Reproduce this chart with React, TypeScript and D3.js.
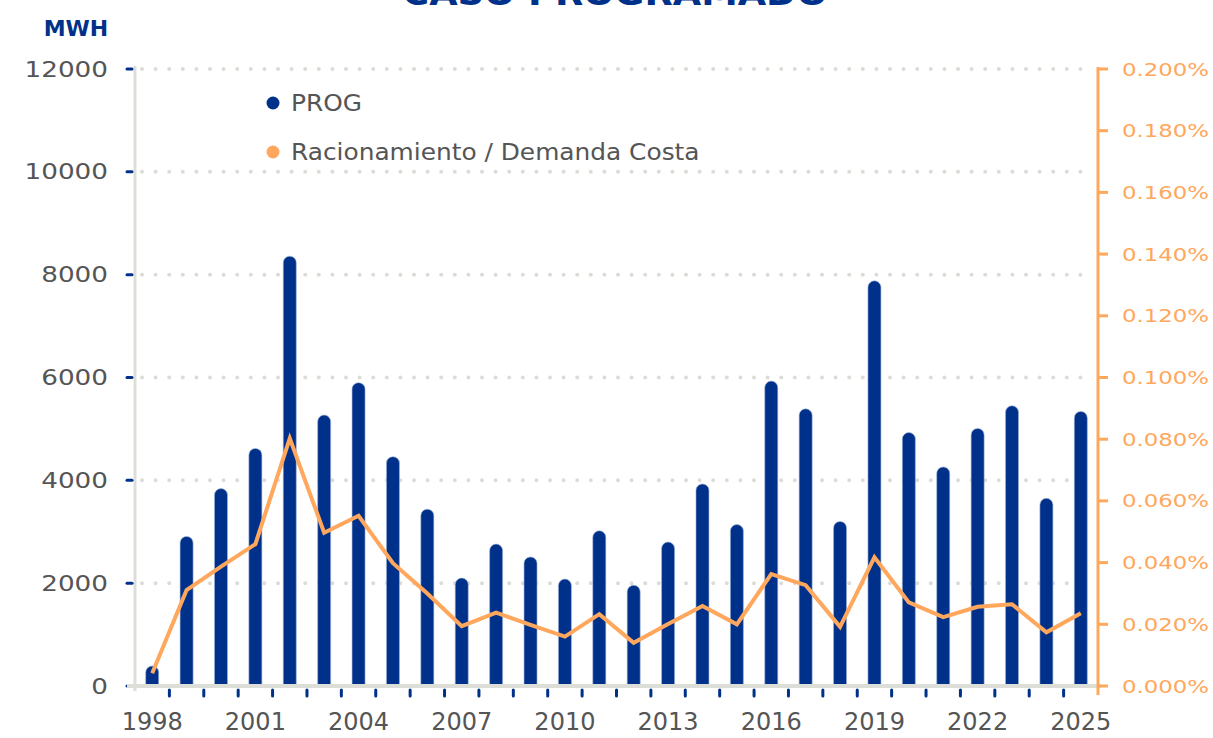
import React from "react";
import * as d3 from "d3";

const years = [
  "1998", "1999", "2000", "2001", "2002", "2003", "2004", "2005", "2006", "2007",
  "2008", "2009", "2010", "2011", "2012", "2013", "2014", "2015", "2016", "2017",
  "2018", "2019", "2020", "2021", "2022", "2023", "2024", "2025",
];
// MWH racionados, caso programado
const prog = [
  390, 2910, 3840, 4620, 8360, 5270, 5900, 4460, 3440, 2100,
  2760, 2510, 2080, 3020, 1960, 2800, 3930, 3140, 5930, 5390,
  3200, 7880, 4930, 4260, 5010, 5450, 3650, 5340,
];
// racionamiento / demanda costa, en %
const ratio = [
  0.0041, 0.0311, 0.0387, 0.046, 0.0803, 0.0497, 0.0552, 0.0398, 0.03, 0.0194,
  0.0238, 0.0198, 0.016, 0.0233, 0.014, 0.0201, 0.0259, 0.02, 0.0363, 0.0327,
  0.0192, 0.0417, 0.0271, 0.0223, 0.0257, 0.0265, 0.0174, 0.0236,
];
const yearLabels = ["1998", "2001", "2004", "2007", "2010", "2013", "2016", "2019", "2022", "2025"];
const leftTicks = [0, 2000, 4000, 6000, 8000, 10000, 12000];
const rightTicks = [0, 0.02, 0.04, 0.06, 0.08, 0.1, 0.12, 0.14, 0.16, 0.18, 0.2];

const NAVY = "#00318a";
const ORANGE = "#ffa75c";
const GREY_TXT = "#555555";
const AXIS_GREY = "#deded9";
const FONT = "'DejaVu Sans', sans-serif";

export default function App() {
  const width = 1213;
  const height = 738;
  const left = 135;
  const right = 1098;
  const top = 69;
  const bottom = 686;

  const x = d3.scaleBand<string>().domain(years).range([left, right]).padding(0);
  const y = d3.scaleLinear().domain([0, 12000]).range([bottom, top]);
  const y2 = d3.scaleLinear().domain([0, 0.2]).range([bottom, top]);

  const barW = 13;
  const r = barW / 2;
  const cx = (yr: string) => (x(yr) as number) + x.bandwidth() / 2;

  const barPath = (yr: string, v: number) => {
    const x0 = cx(yr) - r;
    const t = y(v);
    return `M${x0},${bottom} V${t + r} A${r},${r} 0 0 1 ${x0 + barW},${t + r} V${bottom} Z`;
  };

  const line = d3
    .line<number>()
    .x((_, i) => cx(years[i]))
    .y((d) => y2(d));

  // bordes entre categorias
  const boundaries = years.slice(1).map((yr) => x(yr) as number);

  return (
    <svg
      width={width}
      height={height}
      style={{ position: "absolute", left: 0, top: 0, background: "#fff" }}
      fontFamily={FONT}
    >
      <text
        transform="translate(615,5) scale(1.08,1)"
        textAnchor="middle"
        fontSize={34}
        fontWeight="bold"
        fill={NAVY}
      >
        CASO PROGRAMADO
      </text>
      <text x={76} y={36} textAnchor="middle" fontSize={22} fontWeight="bold" fill={NAVY}>
        MWH
      </text>

      {/* grid */}
      {leftTicks
        .filter((t) => t > 0)
        .map((t) => (
          <line
            key={"g" + t}
            x1={142}
            x2={1090}
            y1={y(t)}
            y2={y(t)}
            stroke="#dcdcd6"
            strokeWidth={4}
            strokeLinecap="round"
            strokeDasharray="0 13.6"
          />
        ))}

      {/* left axis */}
      <line x1={left} x2={left} y1={top - 3} y2={bottom + 5} stroke={AXIS_GREY} strokeWidth={3} />
      {leftTicks.map((t) => (
        <g key={"l" + t}>
          <line x1={127} x2={132} y1={y(t)} y2={y(t)} stroke={NAVY} strokeWidth={3} strokeLinecap="round" />
          <text
            transform={`translate(108,${y(t) + 7.5}) scale(1.25,1)`}
            textAnchor="end"
            fontSize={21}
            fill={GREY_TXT}
          >
            {t}
          </text>
        </g>
      ))}

      {/* bars */}
      {years.map((yr, i) => (
        <path key={"b" + yr} d={barPath(yr, prog[i])} fill={NAVY} stroke="#9fb2d6" strokeWidth={0.6} />
      ))}

      {/* bottom axis */}
      <line x1={127} x2={1101} y1={bottom} y2={bottom} stroke={AXIS_GREY} strokeWidth={4} />
      {boundaries.map((bx, i) => (
        <line key={"t" + i} x1={bx} x2={bx} y1={690} y2={696} stroke={NAVY} strokeWidth={3} strokeLinecap="round" />
      ))}
      {yearLabels.map((yr) => (
        <text key={"y" + yr} x={cx(yr)} y={730} textAnchor="middle" fontSize={24} fill={GREY_TXT}>
          {yr}
        </text>
      ))}

      {/* right axis */}
      <line x1={right} x2={right} y1={top - 2} y2={bottom + 9} stroke={ORANGE} strokeWidth={3} />
      {rightTicks.map((t) => (
        <g key={"r" + t}>
          <line x1={right} x2={1108} y1={y2(t)} y2={y2(t)} stroke={ORANGE} strokeWidth={3} />
          <text
            transform={`translate(1209,${y2(t) + 6.5}) scale(1.27,1)`}
            textAnchor="end"
            fontSize={18}
            fill={ORANGE}
          >
            {t.toFixed(3) + "%"}
          </text>
        </g>
      ))}

      {/* line */}
      <path d={line(ratio) as string} fill="none" stroke={ORANGE} strokeWidth={4} strokeLinejoin="miter" />

      {/* legend */}
      <circle cx={273} cy={103} r={6.5} fill={NAVY} />
      <text transform="translate(291,111) scale(1.08,1)" fontSize={23} fill={GREY_TXT}>
        PROG
      </text>
      <circle cx={273} cy={152} r={6.5} fill={ORANGE} />
      <text transform="translate(291,160) scale(1.08,1)" fontSize={23} fill={GREY_TXT}>
        Racionamiento / Demanda Costa
      </text>
    </svg>
  );
}
